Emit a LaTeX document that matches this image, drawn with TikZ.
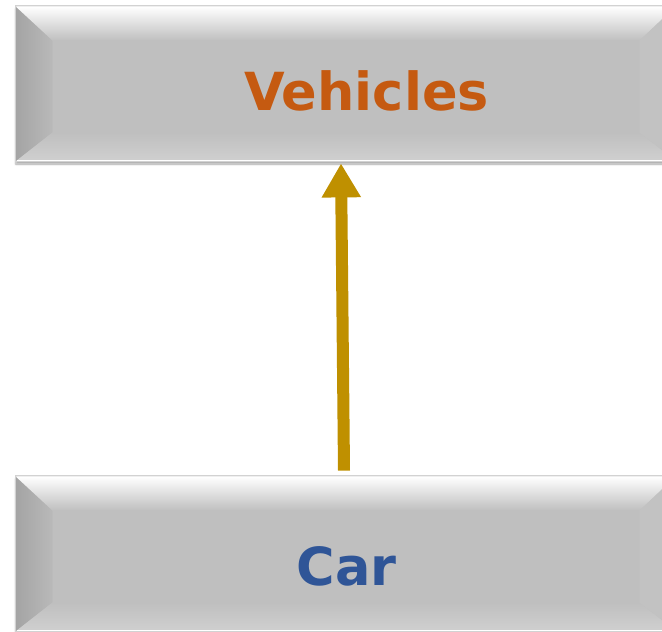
\documentclass[tikz,border=0pt]{standalone}
\usepackage{fontspec}
\setmainfont{DejaVu Sans}
\usetikzlibrary{arrows.meta,calc,shadows.blur}
\definecolor{boxgray}{HTML}{BFBFBF}
\definecolor{leftgray}{HTML}{A4A4A4}
\definecolor{leftinner}{HTML}{B9B9B9}
\definecolor{bottomgray}{HTML}{C4C4C4}
\definecolor{rightgray}{HTML}{C2C2C2}
\definecolor{edgegray}{HTML}{D2D2D2}
\definecolor{vehorange}{HTML}{C55A11}
\definecolor{carblue}{HTML}{2F5597}
\definecolor{arrowgold}{HTML}{BF9000}
\tikzset{
  bevelbox/.style={rectangle, minimum width=660pt, minimum height=155pt, inner sep=0pt,
    fill=boxgray, draw=edgegray, line width=0.8pt,
    blur shadow={shadow xshift=0pt, shadow yshift=-3pt, shadow blur steps=6, shadow opacity=35}},
  boxtext/.style={font=\bfseries\fontsize{52.5}{60}\selectfont, anchor=base},
  inherit/.style={draw=arrowgold, line width=12pt, -{Triangle[width=37pt,length=34pt]}}
}
\newcommand{\drawbevel}[1]{%
  % left bevel
  \shade[left color=leftgray, right color=leftinner]
    (#1.north west) -- ([xshift=37pt,yshift=-35pt]#1.north west) -- ([xshift=37pt,yshift=29pt]#1.south west) -- (#1.south west) -- cycle;
  % top bevel
  \shade[top color=white, middle color=boxgray!75!white, bottom color=boxgray]
    ([yshift=-0.8pt]#1.north west) -- ([yshift=-0.8pt]#1.north east) -- ([xshift=-37pt,yshift=-35pt]#1.north east) -- ([xshift=37pt,yshift=-35pt]#1.north west) -- cycle;
  % bottom bevel
  \shade[top color=boxgray, bottom color=bottomgray!80!white]
    (#1.south west) -- ([xshift=37pt,yshift=29pt]#1.south west) -- ([xshift=-37pt,yshift=29pt]#1.south east) -- (#1.south east) -- cycle;
  % right bevel
  \fill[rightgray]
    (#1.north east) -- ([xshift=-37pt,yshift=-35pt]#1.north east) -- ([xshift=-37pt,yshift=29pt]#1.south east) -- (#1.south east) -- cycle;
  \draw[edgegray, line width=0.8pt] (#1.north west) rectangle (#1.south east);
  \draw[white, line width=1pt] ([xshift=1pt,yshift=1.2pt]#1.south west) -- ([yshift=1.2pt]#1.south east);
}
\begin{document}
\begin{tikzpicture}[x=1pt,y=-1pt]
  \useasboundingbox (0,0) rectangle (662,632);
  \node[bevelbox] (veh) at (346,83.5) {};
  \drawbevel{veh}
  \node[bevelbox] (car) at (346,553.5) {};
  \drawbevel{car}
  \node[boxtext, text=vehorange] (vehtext) at (366.5,110) {Vehicles};
  \node[boxtext, text=carblue] (cartext) at (346.5,585) {Car};
  \draw[inherit] ([xshift=-2pt,yshift=5pt]car.north) -- ([xshift=-5pt,yshift=-2pt]veh.south);
\end{tikzpicture}
\end{document}
